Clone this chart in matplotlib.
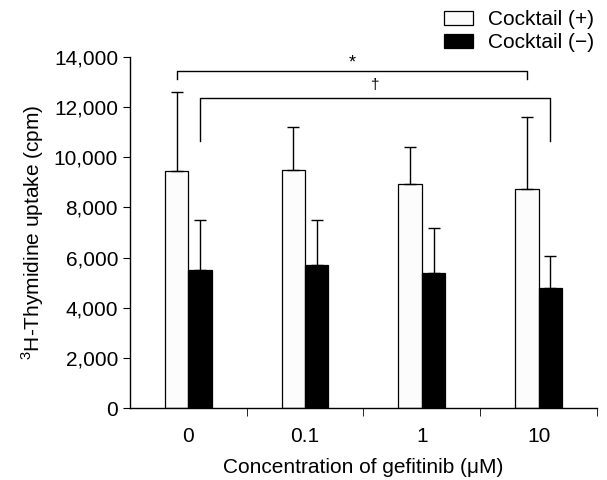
import matplotlib
matplotlib.use("Agg")
import matplotlib.pyplot as plt
import numpy as np

plt.rcParams['font.family'] = ['Liberation Sans', 'DejaVu Sans']
plt.rcParams['mathtext.fontset'] = 'custom'
plt.rcParams['mathtext.rm'] = 'Liberation Sans'

categories = ['0', '0.1', '1', '10']
plus_vals = [9450, 9500, 8950, 8750]
plus_err = [3150, 1700, 1480, 2850]
minus_vals = [5500, 5700, 5400, 4800]
minus_err = [2000, 1800, 1800, 1280]
series_labels = ['Cocktail (+)', 'Cocktail (\u2212)']
yticks = [0, 2000, 4000, 6000, 8000, 10000, 12000, 14000]

fig = plt.figure(figsize=(6.07, 4.8), dpi=100)
ax = fig.add_axes([0.214, 0.15, 0.7695, 0.731])

x = np.arange(len(categories))
w = 0.2
b1 = ax.bar(x - w/2, plus_vals, w, color='#fcfcfc', edgecolor='black', linewidth=0.9, label=series_labels[0])
b2 = ax.bar(x + w/2, minus_vals, w, color='black', edgecolor='black', linewidth=0.9, label=series_labels[1])
ax.errorbar(x - w/2, plus_vals, yerr=[np.zeros(4), plus_err], fmt='none', ecolor='black', elinewidth=1.0, capsize=4, capthick=1.0)
ax.errorbar(x + w/2, minus_vals, yerr=[np.zeros(4), minus_err], fmt='none', ecolor='black', elinewidth=1.0, capsize=4, capthick=1.0)

# significance brackets
x1, x2 = x[0] - w/2, x[3] - w/2
ax.plot([x1, x1, x2, x2], [13120, 13440, 13440, 13120], color='black', lw=1.0)
ax.text((x1 + x2) / 2, 13750, '*', ha='center', va='center', fontsize=13)
x3, x4 = x[0] + w/2, x[3] + w/2
ax.plot([x3, x3, x4, x4], [10650, 12370, 12370, 10650], color='black', lw=1.0)
ax.text((x3 + x4) / 2, 12900, '\u2020', ha='center', va='center', fontsize=11)

ax.set_xlim(-0.5, 3.5)
ax.set_ylim(0, 14000)
ax.set_yticks(yticks)
ax.set_yticklabels([f'{v:,}' for v in yticks])
ax.set_xticks(x)
ax.set_xticklabels(categories)
ax.set_xticks(np.arange(0.5, 4, 1), minor=True)
ax.tick_params(axis='x', which='major', length=0, pad=14, labelsize=15)
ax.tick_params(axis='x', which='minor', length=6, direction='out')
ax.tick_params(axis='y', length=5, direction='out', labelsize=15)
for s in ['top', 'right']:
    ax.spines[s].set_visible(False)
ax.spines['left'].set_linewidth(1.0)
ax.spines['bottom'].set_linewidth(1.0)

ax.set_xlabel('Concentration of gefitinib (\u03bcM)', fontsize=15, labelpad=8)
ax.set_ylabel(r'$^{3}$H-Thymidine uptake (cpm)', fontsize=15, labelpad=6)

fig.legend(handles=[b1, b2], labels=series_labels, loc='upper right', bbox_to_anchor=(1.0, 1.005),
           frameon=False, fontsize=15, handlelength=1.4, handleheight=0.7, handletextpad=0.75,
           labelspacing=0.2, borderaxespad=0.2)

fig.savefig('out.png', dpi=100)
